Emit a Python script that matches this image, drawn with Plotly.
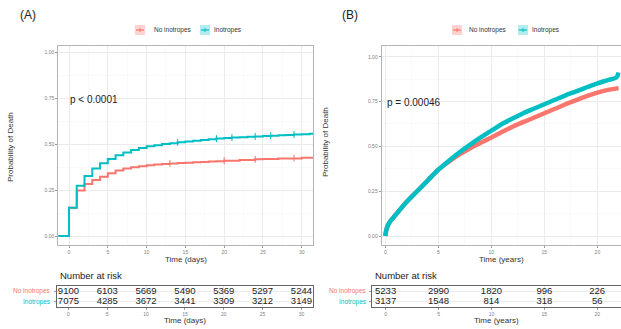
import plotly.graph_objects as go

W, H = 621, 329
RED = "#F8766D"
TEAL = "#00BFC4"

# ---------------- Data ----------------
# Panel A: cumulative probability of death, days
a_time_no = [-1.4, 0, 1, 2, 3, 4, 5, 6, 7, 8, 9, 10, 11, 12, 13, 14, 15, 16, 17, 18, 19, 20, 22, 24, 25, 27, 30, 31.45]
a_prob_no = [0, 0.154, 0.247, 0.283, 0.305, 0.323, 0.341, 0.356, 0.367, 0.374, 0.380, 0.385, 0.389, 0.392, 0.395,
             0.397, 0.399, 0.401, 0.403, 0.405, 0.407, 0.410, 0.413, 0.417, 0.419, 0.422, 0.426, 0.427]
a_time_ino = [-1.4, 0, 1, 2, 3, 4, 5, 6, 7, 8, 9, 10, 11, 12, 13, 14, 15, 16, 17, 18, 19, 20, 21, 22, 23, 24,
              25, 26, 27, 28, 29, 30, 31, 31.45]
a_prob_ino = [0, 0.154, 0.274, 0.327, 0.368, 0.396, 0.419, 0.440, 0.455, 0.468, 0.479, 0.488, 0.494, 0.500, 0.505,
              0.510, 0.514, 0.519, 0.523, 0.527, 0.530, 0.533, 0.536, 0.538, 0.540, 0.542, 0.544, 0.546, 0.548,
              0.550, 0.552, 0.554, 0.556, 0.556]
a_cens_no_t = [13, 20, 24, 29]
a_cens_no_p = [0.395, 0.410, 0.417, 0.424]
a_cens_ino_t = [14, 19, 21, 24, 26, 29]
a_cens_ino_p = [0.510, 0.530, 0.536, 0.542, 0.546, 0.552]

# Panel B: cumulative probability of death, years
b_time_no = [0, 0.05, 0.1, 0.25, 0.5, 1, 2, 3, 4, 5, 6, 7, 8, 9, 10, 11, 12, 13, 14, 15, 16, 17, 18, 19, 20, 21, 22]
b_prob_no = [0, 0.02, 0.035, 0.06, 0.085, 0.12, 0.19, 0.25, 0.31, 0.37, 0.415, 0.455, 0.49, 0.52, 0.55, 0.58,
             0.61, 0.635, 0.66, 0.685, 0.71, 0.735, 0.758, 0.78, 0.80, 0.815, 0.825]
b_time_ino = [0, 0.05, 0.1, 0.25, 0.5, 1, 2, 3, 4, 5, 6, 7, 8, 9, 10, 11, 12, 13, 14, 15, 16, 17, 18, 19, 20, 21,
              21.8, 22]
b_prob_ino = [0, 0.02, 0.035, 0.06, 0.085, 0.12, 0.19, 0.25, 0.31, 0.37, 0.42, 0.467, 0.51, 0.55, 0.588, 0.625,
              0.655, 0.685, 0.71, 0.735, 0.76, 0.785, 0.807, 0.83, 0.852, 0.87, 0.885, 0.912]

# Risk tables
a_risk_times = [0, 5, 10, 15, 20, 25, 30]
a_risk_no = [9100, 6103, 5669, 5490, 5369, 5297, 5244]
a_risk_ino = [7075, 4285, 3672, 3441, 3309, 3212, 3149]
b_risk_times = [0, 5, 10, 15, 20]
b_risk_no = [5233, 2990, 1820, 996, 226]
b_risk_ino = [3137, 1548, 814, 318, 56]

group_labels = ["No inotropes", "Inotropes"]
y_ticks = [0, 0.25, 0.5, 0.75, 1.0]
y_tick_text = ["0.00", "0.25", "0.50", "0.75", "1.00"]
a_x_ticks = [0, 5, 10, 15, 20, 25, 30]
b_x_ticks = [0, 5, 10, 15, 20]


def px(x):
    return x / W


def py(y):
    return 1 - y / H


fig = go.Figure()

# Panel A curves
fig.add_trace(go.Scatter(x=a_time_no, y=a_prob_no, mode="lines", line=dict(color=RED, width=2, shape="hv"),
                         xaxis="x", yaxis="y", showlegend=False))
fig.add_trace(go.Scatter(x=a_time_ino, y=a_prob_ino, mode="lines", line=dict(color=TEAL, width=2, shape="hv"),
                         xaxis="x", yaxis="y", showlegend=False))
fig.add_trace(go.Scatter(x=a_cens_no_t, y=a_cens_no_p, mode="markers",
                         marker=dict(symbol="line-ns", size=5, line=dict(color=RED, width=1)),
                         xaxis="x", yaxis="y", showlegend=False))
fig.add_trace(go.Scatter(x=a_cens_ino_t, y=a_cens_ino_p, mode="markers",
                         marker=dict(symbol="line-ns", size=5, line=dict(color=TEAL, width=1)),
                         xaxis="x", yaxis="y", showlegend=False))

# Panel B curves
fig.add_trace(go.Scatter(x=b_time_no, y=b_prob_no, mode="lines", line=dict(color=RED, width=4.5, shape="spline"),
                         xaxis="x2", yaxis="y2", showlegend=False))
fig.add_trace(go.Scatter(x=b_time_ino, y=b_prob_ino, mode="lines", line=dict(color=TEAL, width=4.5, shape="spline"),
                         xaxis="x2", yaxis="y2", showlegend=False))

# Risk tables
fig.add_trace(go.Scatter(x=a_risk_times, y=[2] * len(a_risk_times), mode="text",
                         text=[str(v) for v in a_risk_no], textfont=dict(size=9.5, color="#222"),
                         xaxis="x3", yaxis="y3", showlegend=False))
fig.add_trace(go.Scatter(x=a_risk_times, y=[1] * len(a_risk_times), mode="text",
                         text=[str(v) for v in a_risk_ino], textfont=dict(size=9.5, color="#222"),
                         xaxis="x3", yaxis="y3", showlegend=False))
fig.add_trace(go.Scatter(x=b_risk_times, y=[2] * len(b_risk_times), mode="text",
                         text=[str(v) for v in b_risk_no], textfont=dict(size=9.5, color="#222"),
                         xaxis="x4", yaxis="y4", showlegend=False))
fig.add_trace(go.Scatter(x=b_risk_times, y=[1] * len(b_risk_times), mode="text",
                         text=[str(v) for v in b_risk_ino], textfont=dict(size=9.5, color="#222"),
                         xaxis="x4", yaxis="y4", showlegend=False))

tickfont = dict(size=5, color="#808080")
GRID = "#ebebeb"
MINOR = dict(showgrid=True, gridcolor="#f5f5f5", gridwidth=0.5)
BORDER = "#b5b5b5"

common_main_x = dict(showline=True, mirror=True, linecolor=BORDER, linewidth=1, showgrid=True, gridcolor=GRID,
                     ticks="outside", ticklen=2, tickcolor="#999", tickfont=tickfont, zeroline=False)
common_main_y = dict(common_main_x)

main_ydom = [py(245), py(46)]

fig.update_layout(
    width=W, height=H, margin=dict(l=0, r=0, t=0, b=0),
    paper_bgcolor="white", plot_bgcolor="white", hovermode=False,
    font=dict(family="Liberation Sans, Arial, sans-serif", color="#333"),
    xaxis=dict(common_main_x, domain=[px(58.3), px(313)], range=[-1.38, 31.45], tickvals=a_x_ticks,
               minor=dict(MINOR, dtick=2.5), anchor="y"),
    yaxis=dict(common_main_y, domain=main_ydom, range=[-0.049, 1.034], tickvals=y_ticks, ticktext=y_tick_text,
               minor=dict(MINOR, tickvals=[0.125, 0.375, 0.625, 0.875]), anchor="x"),
    xaxis2=dict(common_main_x, domain=[px(381.7), px(620.5)], range=[-0.34, 22.18], tickvals=b_x_ticks,
                minor=dict(MINOR, dtick=2.5), anchor="y2"),
    yaxis2=dict(common_main_y, domain=main_ydom, range=[-0.05, 1.06], tickvals=y_ticks, ticktext=y_tick_text,
                minor=dict(MINOR, tickvals=[0.125, 0.375, 0.625, 0.875]), anchor="x2"),
    xaxis3=dict(common_main_x, domain=[px(56.7), px(313)], range=[-1.51, 31.49], tickvals=a_x_ticks,
                anchor="y3", linecolor="#666"),
    yaxis3=dict(domain=[py(307), py(286)], range=[0.5, 2.5], showline=True, mirror=True, linecolor="#666",
                showgrid=True, gridcolor=GRID, tickvals=[1, 2], showticklabels=False, ticks="outside",
                ticklen=2, tickcolor="#999", zeroline=False, anchor="x3"),
    xaxis4=dict(common_main_x, domain=[px(372.3), px(620.5)], range=[-1.26, 22.2], tickvals=b_x_ticks,
                anchor="y4", linecolor="#666"),
    yaxis4=dict(domain=[py(307), py(286)], range=[0.5, 2.5], showline=True, mirror=True, linecolor="#666",
                showgrid=True, gridcolor=GRID, tickvals=[1, 2], showticklabels=False, ticks="outside",
                ticklen=2, tickcolor="#999", zeroline=False, anchor="x4"),
)

ann = []
shapes = []


def text(x, y, s, size, color="#333", xanchor="center", angle=0):
    ann.append(dict(x=px(x), y=py(y), xref="paper", yref="paper", text=s, showarrow=False,
                    font=dict(size=size, color=color), xanchor=xanchor, yanchor="middle", textangle=angle))


# Panel letters
text(18, 15, "(A)", 12, "#222", "left")
text(340, 15, "(B)", 12, "#222", "left")

# p-values
text(68, 100, "p < 0.0001", 10, "#222", "left")
text(385, 102, "p = 0.00046", 10, "#222", "left")

# Axis titles
text(10, 147, "Probability of Death", 8, "#333", angle=-90)
text(325, 142, "Probability of Death", 8, "#333", angle=-90)
text(185.5, 259.5, "Time (days)", 8, "#333")
text(501, 259.5, "Time (years)", 8, "#333")
text(185, 320, "Time (days)", 8, "#333")
text(496, 320, "Time (years)", 8, "#333")

# Number at risk titles
text(57.5, 275.5, "Number at risk", 9.5, "#222", "left")
text(373, 275.5, "Number at risk", 9.5, "#222", "left")

# Row labels
for xr, yref in ((53.5, "y3"), (369, "y4")):
    ann.append(dict(x=px(xr), y=2, xref="paper", yref=yref,
                    text=group_labels[0], showarrow=False, font=dict(size=6.5, color=RED), xanchor="right"))
    ann.append(dict(x=px(xr), y=1, xref="paper", yref=yref,
                    text=group_labels[1], showarrow=False, font=dict(size=6.5, color=TEAL), xanchor="right"))


# Legends
def legend_key(x0, yc, color, fill):
    shapes.append(dict(type="rect", xref="paper", yref="paper", x0=px(x0), x1=px(x0 + 10),
                       y0=py(yc + 5), y1=py(yc - 5), fillcolor=fill, line=dict(width=0)))
    shapes.append(dict(type="line", xref="paper", yref="paper", x0=px(x0 + 1), x1=px(x0 + 9),
                       y0=py(yc), y1=py(yc), line=dict(color=color, width=1.2)))
    shapes.append(dict(type="line", xref="paper", yref="paper", x0=px(x0 + 5), x1=px(x0 + 5),
                       y0=py(yc - 2), y1=py(yc + 2), line=dict(color=color, width=1)))


legend_key(135, 30, RED, "#fcd3d0")
text(151.5, 30, group_labels[0], 6.5, "#333", "left")
legend_key(200, 30, TEAL, "#b3ecee")
text(212, 30, group_labels[1], 6.5, "#333", "left")

legend_key(452, 30, RED, "#fcd3d0")
text(467, 30, group_labels[0], 6.5, "#333", "left")
legend_key(518, 30, TEAL, "#b3ecee")
text(529.5, 30, group_labels[1], 6.5, "#333", "left")

fig.update_layout(annotations=ann, shapes=shapes)
fig.write_html("out.html", config={"displayModeBar": False, "staticPlot": True},
               post_script="document.body.style.margin='0px';document.body.style.overflow='hidden';")
